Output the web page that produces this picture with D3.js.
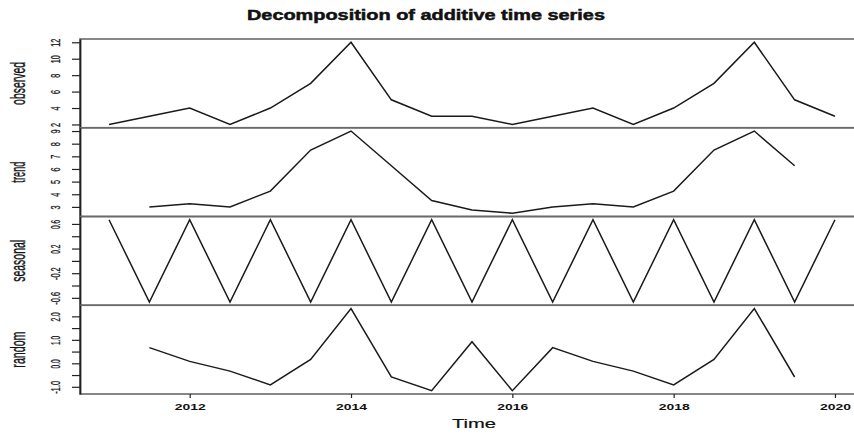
<!DOCTYPE html>
<html lang="en">
<head>
  <meta charset="UTF-8" />
  <title>Decomposition of additive time series</title>
  <script src="https://cdn.jsdelivr.net/npm/d3@7"></script>
  <style>
    body { margin: 0; background: #fff; }
    svg { display: block; }
    text { font-family: "Liberation Sans", Arial, sans-serif; fill: #111; }
  </style>
</head>
<body>
<script>
  // half-yearly series, 2011 .. 2020
  const time = [2011, 2011.5, 2012, 2012.5, 2013, 2013.5, 2014, 2014.5, 2015, 2015.5,
                2016, 2016.5, 2017, 2017.5, 2018, 2018.5, 2019, 2019.5, 2020];
  const observed = [2, 3, 4, 2, 4, 7, 12, 5, 3, 3, 2, 3, 4, 2, 4, 7, 12, 5, 3];
  const trend = [null, 3, 3.25, 3, 4.25, 7.5, 9, 6.25, 3.5, 2.75, 2.5, 3, 3.25, 3, 4.25, 7.5, 9, 6.25, null];
  const seasonal = [0.667, -0.667, 0.667, -0.667, 0.667, -0.667, 0.667, -0.667, 0.667, -0.667,
                    0.667, -0.667, 0.667, -0.667, 0.667, -0.667, 0.667, -0.667, 0.667];
  const random = [null, 0.667, 0.083, -0.333, -0.917, 0.167, 2.333, -0.583, -1.167, 0.917,
                  -1.167, 0.667, 0.083, -0.333, -0.917, 0.167, 2.333, -0.583, null];

  const panelNames = ["observed", "trend", "seasonal", "random"];
  const panelTicks = [
    [2, 4, 6, 8, 10, 12],
    [3, 4, 5, 6, 7, 8, 9],
    [-0.6, -0.4, -0.2, 0, 0.2, 0.4, 0.6],
    [-1, -0.5, 0, 0.5, 1, 1.5, 2]
  ];
  const panelLabels = [
    ["2", "4", "6", "8", "10", "12"],
    ["3", "4", "5", "6", "7", "8", "9"],
    ["-0.6", "", "-0.2", "", "0.2", "", "0.6"],
    ["-1.0", "", "0.0", "", "1.0", "", "2.0"]
  ];
  const xTicks = [2012, 2014, 2016, 2018, 2020];
  const xTickLabels = ["2012", "2014", "2016", "2018", "2020"];
  const series = [observed, trend, seasonal, random];

  const W = 854, H = 434;
  const plotLeft = 80, plotRight = 864;
  const plotTop = 39, panelH = 88.75;

  const svg = d3.select("body").append("svg")
    .attr("width", W).attr("height", H);

  // R style: 4% extension on both ends
  const pad = (lo, hi) => { const d = (hi - lo) * 0.04; return [lo - d, hi + d]; };
  const x = d3.scaleLinear().domain(pad(2011, 2020)).range([plotLeft, plotRight]);

  const labelLen = s => {
    let n = 0;
    for (const c of s) n += c === "." ? 1.2 : c === "-" ? 3.5 : 4;
    return n;
  };

  series.forEach((vals, i) => {
    const y0 = plotTop + i * panelH, y1 = y0 + panelH;
    const ext = d3.extent(vals.filter(v => v !== null));
    const y = d3.scaleLinear().domain(pad(ext[0], ext[1])).range([y1, y0]);
    const g = svg.append("g");

    g.append("rect")
      .attr("x", plotLeft).attr("y", y0)
      .attr("width", plotRight - plotLeft).attr("height", panelH)
      .attr("fill", "none").attr("stroke", "#6a6a6a").attr("stroke-width", 1.6);

    const line = d3.line()
      .defined(d => d[1] !== null)
      .x(d => x(d[0])).y(d => y(d[1]));
    g.append("path")
      .datum(time.map((t, k) => [t, vals[k]]))
      .attr("d", line)
      .attr("fill", "none").attr("stroke", "#1a1a1a").attr("stroke-width", 1.5);

    const labels = panelLabels[i];
    const ax = g.append("g")
      .attr("transform", `translate(${plotLeft},0)`)
      .call(d3.axisLeft(y).tickValues(panelTicks[i]).tickSize(8).tickSizeOuter(0)
        .tickFormat((d, k) => labels[k]));
    ax.select(".domain").attr("stroke", "#222").attr("stroke-width", 1.8);
    ax.selectAll(".tick line").attr("stroke", "#222").attr("stroke-width", 1.2);
    ax.selectAll(".tick text")
      .attr("transform", "rotate(-90)")
      .attr("x", 0).attr("y", -20).attr("dy", 0)
      .attr("text-anchor", "middle")
      .attr("font-size", 12)
      .attr("fill", "#1a1a2a")
      .attr("stroke", "#1a1a2a").attr("stroke-width", 0.3)
      .each(function (d, k) {
        if (labels[k]) d3.select(this)
          .attr("textLength", labelLen(labels[k]))
          .attr("lengthAdjust", "spacingAndGlyphs");
      });

    const nameLen = [43, 21, 42, 36][i];
    svg.append("text")
      .attr("transform", `translate(25,${(y0 + y1) / 2}) rotate(-90)`)
      .attr("text-anchor", "middle")
      .attr("font-size", 20)
      .attr("fill", "#1a1a2a")
      .attr("stroke", "#1a1a2a").attr("stroke-width", 0.4)
      .attr("textLength", nameLen)
      .attr("lengthAdjust", "spacingAndGlyphs")
      .text(panelNames[i]);
  });

  // time axis under the last panel
  const yb = plotTop + 4 * panelH;
  const xa = svg.append("g")
    .attr("transform", `translate(0,${yb})`)
    .call(d3.axisBottom(x).tickValues(xTicks).tickSize(4).tickSizeOuter(0)
      .tickFormat((d, k) => xTickLabels[k]));
  xa.select(".domain").remove();
  xa.selectAll(".tick line").attr("stroke", "#222").attr("stroke-width", 1.2);
  xa.selectAll(".tick text")
    .attr("y", 16).attr("dy", 0)
    .attr("font-size", 8.5)
    .attr("font-weight", "bold")
    .attr("fill", "#222")
    .attr("textLength", 31)
    .attr("lengthAdjust", "spacingAndGlyphs");

  svg.append("text")
    .attr("x", 474).attr("y", 428)
    .attr("text-anchor", "middle")
    .attr("font-size", 13)
    .attr("fill", "#111")
    .attr("stroke", "#111").attr("stroke-width", 0.2)
    .attr("textLength", 44)
    .attr("lengthAdjust", "spacingAndGlyphs")
    .text("Time");

  svg.append("text")
    .attr("x", 426).attr("y", 20)
    .attr("text-anchor", "middle")
    .attr("font-size", 15)
    .attr("font-weight", "bold")
    .attr("stroke", "#111").attr("stroke-width", 0.5)
    .attr("textLength", 358)
    .attr("lengthAdjust", "spacingAndGlyphs")
    .text("Decomposition of additive time series");
</script>
</body>
</html>
